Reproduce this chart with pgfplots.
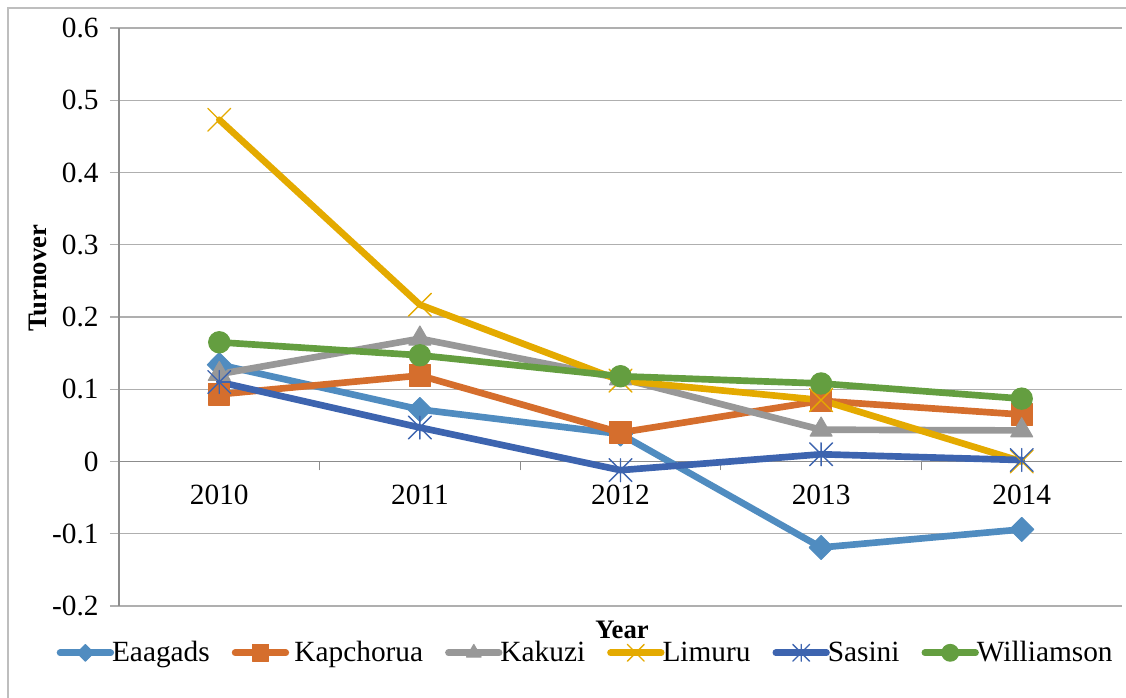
\documentclass[border=0pt]{standalone}
\usepackage{fontspec}
\setmainfont{Liberation Serif}
\usepackage{pgfplots}
\pgfplotsset{compat=1.18}
\definecolor{eaag}{RGB}{80,140,192}
\definecolor{kap}{RGB}{213,110,45}
\definecolor{kak}{RGB}{152,152,152}
\definecolor{lim}{RGB}{228,170,0}
\definecolor{sas}{RGB}{61,100,175}
\definecolor{wil}{RGB}{100,158,64}
\definecolor{gridgray}{RGB}{175,175,175}
\definecolor{axisgray}{RGB}{140,140,140}
\definecolor{bordergray}{RGB}{190,190,190}
\pgfdeclareplotmark{xlstar}{%
  \pgfpathmoveto{\pgfqpoint{0pt}{\pgfplotmarksize}}\pgfpathlineto{\pgfqpoint{0pt}{-\pgfplotmarksize}}%
  \pgfpathmoveto{\pgfqpoint{-\pgfplotmarksize}{\pgfplotmarksize}}\pgfpathlineto{\pgfqpoint{\pgfplotmarksize}{-\pgfplotmarksize}}%
  \pgfpathmoveto{\pgfqpoint{-\pgfplotmarksize}{-\pgfplotmarksize}}\pgfpathlineto{\pgfqpoint{\pgfplotmarksize}{\pgfplotmarksize}}%
  \pgfusepathqstroke}
\pgfdeclareplotmark{xlx}{%
  \pgfpathmoveto{\pgfqpoint{-\pgfplotmarksize}{\pgfplotmarksize}}\pgfpathlineto{\pgfqpoint{\pgfplotmarksize}{-\pgfplotmarksize}}%
  \pgfpathmoveto{\pgfqpoint{-\pgfplotmarksize}{-\pgfplotmarksize}}\pgfpathlineto{\pgfqpoint{\pgfplotmarksize}{\pgfplotmarksize}}%
  \pgfusepathqstroke}
\begin{document}
\begin{tikzpicture}
\path[use as bounding box] (-89.25pt,-69pt) rectangle (755.25pt,454.5pt);
\draw[color=bordergray, line width=0.8pt] (-83.25pt,-80pt) -- (-83.25pt,448.5pt) -- (760pt,448.5pt);
\begin{axis}[
  at={(0pt,0pt)}, anchor=south west,
  width=752.25pt, height=433.5pt, scale only axis,
  xmin=-0.5, xmax=4.5, ymin=-0.2, ymax=0.6,
  axis x line=middle, axis y line=left,
  x axis line style={-, draw=axisgray, line width=1pt},
  y axis line style={-, draw=axisgray, line width=1pt},
  xtick={0,1,2,3,4},
  xticklabels={2010,2011,2012,2013,2014},
  minor xtick={-0.5,0.5,1.5,2.5,3.5},
  major x tick style={draw=none},
  minor x tick style={draw=axisgray, line width=1pt},
  ytick={-0.2,-0.1,0,0.1,0.2,0.3,0.4,0.5,0.6},
  yticklabels={-0.2,-0.1,0,0.1,0.2,0.3,0.4,0.5,0.6},
  y tick style={draw=gridgray, line width=1pt},
  tick align=outside, major tick length=6.75pt, minor tick length=6.75pt,
  ymajorgrids, major grid style={draw=gridgray, line width=1pt},
  tick label style={font=\fontsize{22}{26}\selectfont},
  xticklabel style={yshift=-7pt},
  yticklabel style={xshift=-5pt},
  xlabel={Year}, ylabel={Turnover},
  xlabel style={at={(axis description cs:0.5015,-0.042)}, anchor=center, font=\fontsize{20}{24}\selectfont\bfseries},
  ylabel style={at={(axis description cs:-0.081,0.567)}, anchor=center, rotate=0, font=\fontsize{20}{24}\selectfont\bfseries},
  legend style={at={(axis description cs:0.4646,-0.081)}, anchor=center, draw=none, fill=none,
    legend columns=6, font=\fontsize{22}{26}\selectfont, inner sep=0pt,
    /tikz/every even column/.append style={column sep=16pt},
    /tikz/every odd column/.append style={column sep=-2pt},
    nodes={inner sep=0.5pt}},
  legend cell align=left,
  legend image code/.code={\draw[mark repeat=2, mark phase=2, #1, mark size=6.3pt] plot coordinates {(0pt,0pt) (19pt,0pt) (38pt,0pt)};},
  every axis plot/.append style={line width=5pt, line cap=round, line join=round},
  clip=false,
]
\addplot[color=eaag, mark=diamond*, mark size=9pt, mark options={solid, fill=eaag, draw=eaag, line width=0.8pt, xscale=1.33}]
  coordinates {(0,0.134) (1,0.072) (2,0.038) (3,-0.119) (4,-0.094)};
\addlegendentry{Eaagads}
\addplot[color=kap, mark=square*, mark size=8pt, mark options={solid, fill=kap, draw=kap, line width=0.8pt}]
  coordinates {(0,0.093) (1,0.119) (2,0.040) (3,0.084) (4,0.065)};
\addlegendentry{\ Kapchorua}
\addplot[color=kak, mark=triangle*, mark size=9.5pt, mark options={solid, fill=kak, draw=kak, line width=0.8pt}]
  coordinates {(0,0.121) (1,0.170) (2,0.115) (3,0.044) (4,0.043)};
\addlegendentry{Kakuzi}
\addplot[color=lim, mark=xlx, mark size=8.6pt, mark options={solid, draw=lim, line width=1pt}]
  coordinates {(0,0.473) (1,0.217) (2,0.112) (3,0.085) (4,0.000)};
\addlegendentry{Limuru}
\addplot[color=sas, mark=xlstar, mark size=8.6pt, mark options={solid, draw=sas, line width=1pt}]
  coordinates {(0,0.110) (1,0.047) (2,-0.012) (3,0.010) (4,0.002)};
\addlegendentry{Sasini}
\addplot[color=wil, mark=*, mark size=8pt, mark options={solid, fill=wil, draw=wil, line width=0.8pt}]
  coordinates {(0,0.165) (1,0.147) (2,0.118) (3,0.108) (4,0.087)};
\addlegendentry{Williamson}
\end{axis}
\end{tikzpicture}
\end{document}
